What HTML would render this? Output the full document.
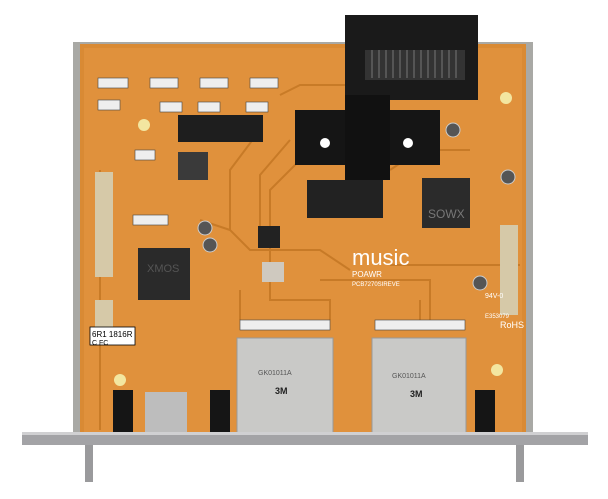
<!DOCTYPE html>
<html><head><style>
html,body{margin:0;padding:0;background:#fff;}
svg{display:block}
</style></head><body>
<svg width="608" height="499" viewBox="0 0 608 499" xmlns="http://www.w3.org/2000/svg">
<rect width="608" height="499" fill="#fff"/>
<!-- board -->
<rect x="73" y="42" width="460" height="395" fill="#a9a9a5"/>
<rect x="80" y="44" width="446" height="392" fill="#d98a34"/>
<rect x="84" y="48" width="438" height="385" fill="#e0913c"/>
<!-- traces -->
<g stroke="#c27522" stroke-width="2" fill="none" opacity="0.8">
<path d="M280 95 L300 85 L345 85 M260 130 L230 170 L230 230 L250 250 L320 250 L350 270"/>
<path d="M290 140 L260 175 L260 240 M300 160 L270 190 L270 300 L330 300 L330 320"/>
<path d="M100 170 L100 430 M390 265 L520 265 M320 280 L430 280 L430 320"/>
<path d="M390 170 L420 150 L470 150 M200 220 L230 230 M240 290 L240 320 M420 300 L420 330"/>
</g>
<!-- top connector -->
<rect x="345" y="15" width="133" height="85" fill="#1a1a1a"/>
<rect x="365" y="50" width="100" height="30" fill="#333"/>
<g stroke="#777" stroke-width="1"><path d="M372 50v28M379 50v28M386 50v28M393 50v28M400 50v28M407 50v28M414 50v28M421 50v28M428 50v28M435 50v28M442 50v28M449 50v28M456 50v28"/></g>
<!-- battery holder -->
<rect x="295" y="110" width="145" height="55" fill="#151515"/>
<rect x="345" y="95" width="45" height="85" fill="#111"/>
<circle cx="325" cy="143" r="5" fill="#fff"/><circle cx="408" cy="143" r="5" fill="#fff"/>
<!-- header -->
<rect x="178" y="115" width="85" height="27" fill="#1e1e1e"/>
<!-- chips -->
<rect x="178" y="152" width="30" height="28" fill="#3a3a3a"/>
<rect x="138" y="248" width="52" height="52" fill="#2a2a2a"/>
<text x="147" y="272" font-family="Liberation Sans,sans-serif" font-size="11" fill="#555">XMOS</text>
<rect x="422" y="178" width="48" height="50" fill="#2b2b2b"/>
<text x="428" y="218" font-family="Liberation Sans,sans-serif" font-size="12" fill="#777">SOWX</text>
<rect x="307" y="180" width="76" height="38" fill="#222"/>
<rect x="258" y="226" width="22" height="22" fill="#222"/>
<rect x="262" y="262" width="22" height="20" fill="#cfc9bf"/>
<!-- left pin headers -->
<rect x="95" y="172" width="18" height="105" fill="#d6c9a8"/>
<rect x="95" y="300" width="18" height="40" fill="#d6c9a8"/>
<rect x="500" y="225" width="18" height="90" fill="#d6c9a8"/>
<!-- caps -->
<circle cx="205" cy="228" r="7" fill="#555" stroke="#ccc"/><circle cx="210" cy="245" r="7" fill="#555" stroke="#ccc"/>
<circle cx="453" cy="130" r="7" fill="#555" stroke="#ccc"/><circle cx="508" cy="177" r="7" fill="#555" stroke="#ccc"/><circle cx="480" cy="283" r="7" fill="#555" stroke="#ccc"/>
<!-- holes -->
<circle cx="144" cy="125" r="6" fill="#f3e6a0"/><circle cx="506" cy="98" r="6" fill="#f3e6a0"/><circle cx="497" cy="370" r="6" fill="#f3e6a0"/><circle cx="120" cy="380" r="6" fill="#f3e6a0"/>
<!-- smd parts -->
<g fill="#eee" stroke="#444" stroke-width="0.6">
<rect x="98" y="78" width="30" height="10"/><rect x="150" y="78" width="28" height="10"/><rect x="200" y="78" width="28" height="10"/><rect x="250" y="78" width="28" height="10"/>
<rect x="98" y="100" width="22" height="10"/><rect x="160" y="102" width="22" height="10"/><rect x="198" y="102" width="22" height="10"/><rect x="246" y="102" width="22" height="10"/>
<rect x="135" y="150" width="20" height="10"/><rect x="133" y="215" width="35" height="10"/><rect x="240" y="320" width="90" height="10"/><rect x="375" y="320" width="90" height="10"/>
</g>
<!-- label / text -->
<rect x="90" y="327" width="45" height="18" fill="#fff" stroke="#000" stroke-width="0.8"/>
<text x="92" y="337" font-family="Liberation Sans,sans-serif" font-size="8">6R1 1816R</text>
<text x="92" y="345" font-family="Liberation Sans,sans-serif" font-size="7">C    FC</text>
<text x="352" y="265" font-family="Liberation Sans,sans-serif" font-size="22" fill="#fff">music</text>
<text x="352" y="277" font-family="Liberation Sans,sans-serif" font-size="8" fill="#fff">POAWR</text>
<text x="352" y="286" font-family="Liberation Sans,sans-serif" font-size="6" fill="#fff">PCB7270SIREVE</text>
<text x="485" y="298" font-family="Liberation Sans,sans-serif" font-size="7" fill="#fff">94V-0</text>
<text x="485" y="318" font-family="Liberation Sans,sans-serif" font-size="6" fill="#fff">E353079</text>
<text x="500" y="328" font-family="Liberation Sans,sans-serif" font-size="9" fill="#fff">RoHS</text>
<!-- SD slots -->
<rect x="237" y="338" width="96" height="96" fill="#c9c9c7" stroke="#999"/>
<rect x="372" y="338" width="94" height="96" fill="#c9c9c7" stroke="#999"/>
<text x="258" y="375" font-family="Liberation Sans,sans-serif" font-size="7" fill="#555">GK01011A</text>
<text x="275" y="394" font-family="Liberation Sans,sans-serif" font-size="9" font-weight="bold" fill="#222">3M</text>
<text x="392" y="378" font-family="Liberation Sans,sans-serif" font-size="7" fill="#555">GK01011A</text>
<text x="410" y="397" font-family="Liberation Sans,sans-serif" font-size="9" font-weight="bold" fill="#222">3M</text>
<!-- bottom jacks -->
<rect x="113" y="390" width="20" height="45" fill="#151515"/>
<rect x="145" y="392" width="42" height="42" fill="#bdbdbd"/>
<rect x="210" y="390" width="20" height="45" fill="#151515"/>
<rect x="475" y="390" width="20" height="45" fill="#151515"/>
<!-- bracket -->
<rect x="22" y="432" width="566" height="13" fill="#a3a3a6"/>
<rect x="22" y="432" width="566" height="3" fill="#d0d0d2"/>
<rect x="85" y="445" width="8" height="37" fill="#9a9a9c"/>
<rect x="516" y="445" width="8" height="37" fill="#9a9a9c"/>
</svg>
</body></html>
